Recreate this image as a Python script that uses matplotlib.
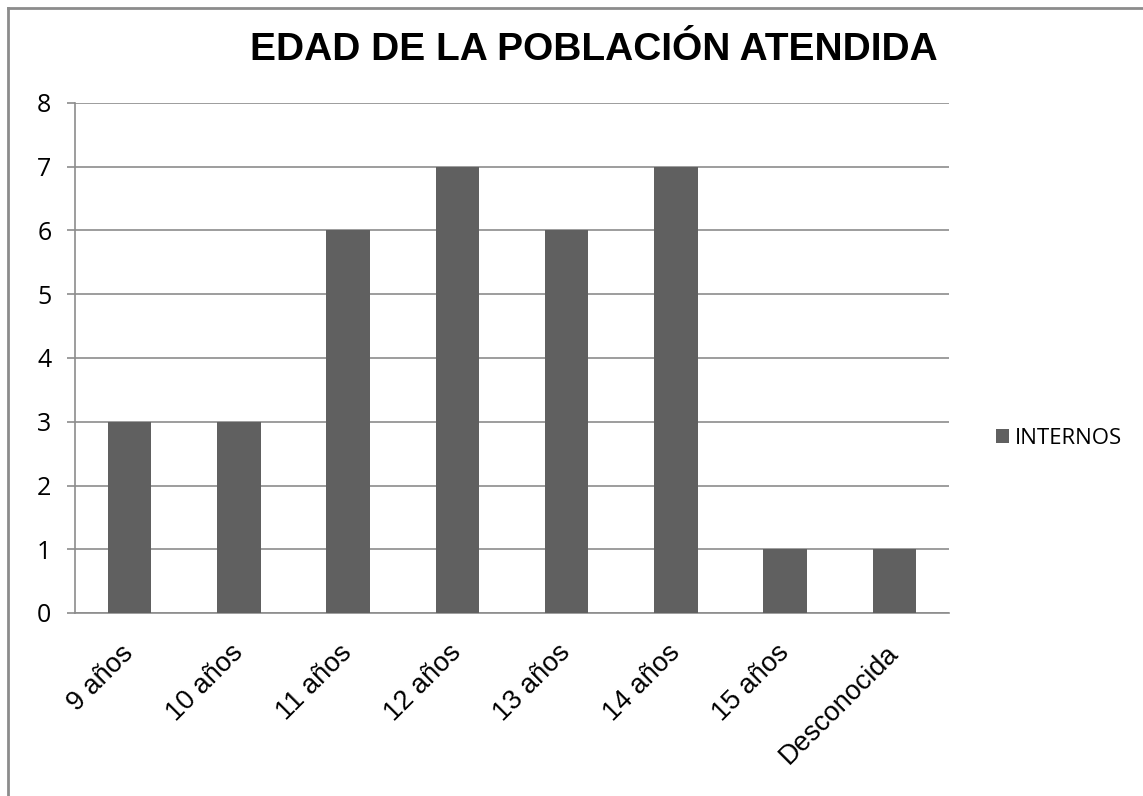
import matplotlib.pyplot as plt
from matplotlib.lines import Line2D

# datos
categorias = ["9 años", "10 años", "11 años", "12 años", "13 años", "14 años", "15 años", "Desconocida"]
internos = [3, 3, 6, 7, 6, 7, 1, 1]
y_ticks = [0, 1, 2, 3, 4, 5, 6, 7, 8]

GRIS = "#8c8c8c"
BARRA = "#606060"

fig = plt.figure(figsize=(11.43, 7.96), dpi=100)
ax = fig.add_axes([75 / 1143, 1 - 613 / 796, (949 - 75) / 1143, (613 - 103) / 796])

x = list(range(len(categorias)))
ax.bar(x, internos, width=0.4, color=BARRA, label="INTERNOS", zorder=3)

ax.set_xlim(-0.5, len(categorias) - 0.5)
ax.set_ylim(0, 8)
ax.set_yticks(y_ticks)
ax.set_yticklabels([str(v) for v in y_ticks], fontsize=18, family="Open Sans")
ax.yaxis.grid(True, color=GRIS, linewidth=1.2, zorder=0)
ax.tick_params(axis="y", length=6, color=GRIS, width=1.2, pad=11)

ax.set_xticks(x)
ax.set_xticklabels(categorias, rotation=45, ha="right", va="center",
                   rotation_mode="anchor", fontsize=19.5, family="Liberation Sans")
ax.tick_params(axis="x", length=0, pad=26)

for s in ["top", "right"]:
    ax.spines[s].set_visible(False)
for s in ["left", "bottom"]:
    ax.spines[s].set_color(GRIS)
    ax.spines[s].set_linewidth(1.2)

fig.text(594 / 1143, 1 - 60 / 796, "EDAD DE LA POBLACIÓN ATENDIDA", ha="center", va="baseline",
         fontsize=28, fontweight="bold", family="Liberation Sans")

ax.legend(loc="center left", bbox_to_anchor=(976 / 1143, 1 - 438 / 796), bbox_transform=fig.transFigure,
          frameon=False, handlelength=0.6, handleheight=0.6, handletextpad=0.25,
          prop={"family": "Open Sans", "size": 16})

# marco exterior (solo borde izquierdo y superior)
fig.add_artist(Line2D([8 / 1143, 8 / 1143], [0, 1 - 8 / 796], color=GRIS, linewidth=2))
fig.add_artist(Line2D([8 / 1143, 1], [1 - 8 / 796, 1 - 8 / 796], color=GRIS, linewidth=2))

plt.savefig("out.png", dpi=100)
